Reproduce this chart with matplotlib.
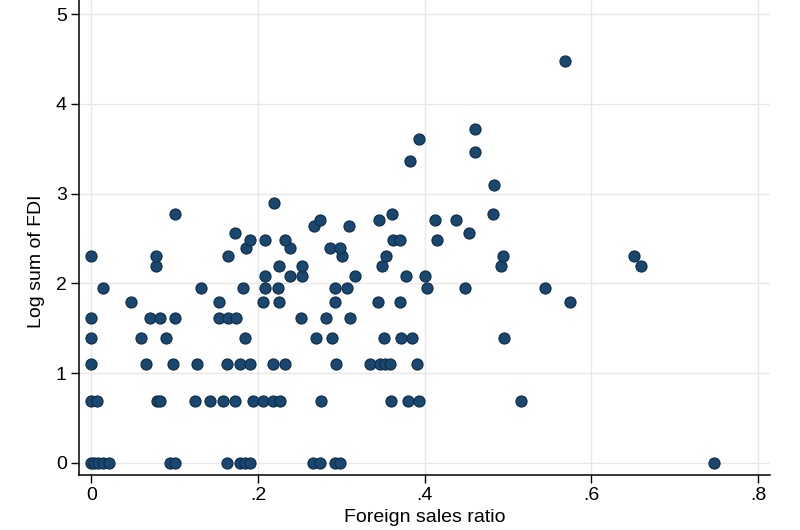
import matplotlib
matplotlib.use("Agg")
import matplotlib.pyplot as plt
from matplotlib.ticker import FixedLocator

# Foreign sales ratio (x) and log sum of FDI (y)
foreign_sales = [
    # y = 0
    0.000, 0.003, 0.008, 0.014, 0.021, 0.094, 0.100, 0.163, 0.178, 0.184,
    0.191, 0.266, 0.274, 0.292, 0.298, 0.747,
    # y = 0.69
    0.000, 0.007, 0.079, 0.083, 0.124, 0.143, 0.158, 0.173, 0.194, 0.206,
    0.218, 0.226, 0.276, 0.360, 0.380, 0.393, 0.516,
    # y = 1.10
    0.000, 0.066, 0.098, 0.127, 0.163, 0.179, 0.191, 0.218, 0.233, 0.294,
    0.334, 0.347, 0.353, 0.358, 0.391,
    # y = 1.39
    0.000, 0.060, 0.090, 0.185, 0.270, 0.289, 0.351, 0.372, 0.385, 0.495,
    # y = 1.61
    0.000, 0.070, 0.083, 0.101, 0.153, 0.164, 0.174, 0.252, 0.282, 0.311,
    # y = 1.79
    0.048, 0.153, 0.206, 0.225, 0.293, 0.344, 0.370, 0.575,
    # y = 1.95
    0.014, 0.132, 0.182, 0.209, 0.224, 0.293, 0.307, 0.403, 0.449, 0.545,
    # y = 2.08
    0.209, 0.238, 0.253, 0.316, 0.378, 0.400,
    # y = 2.20
    0.078, 0.225, 0.253, 0.349, 0.492, 0.660,
    # y = 2.30
    0.000, 0.078, 0.164, 0.301, 0.354, 0.494, 0.651,
    # y = 2.40
    0.186, 0.238, 0.287, 0.298,
    # y = 2.48
    0.190, 0.209, 0.232, 0.362, 0.370, 0.415,
    # y = 2.56 .. 4.48
    0.173, 0.453, 0.267, 0.309, 0.274, 0.345, 0.413, 0.438,
    0.101, 0.361, 0.482, 0.219, 0.483, 0.382, 0.460, 0.393, 0.461, 0.568,
]

log_fdi = (
    [0.0] * 16
    + [0.693] * 17
    + [1.099] * 15
    + [1.386] * 10
    + [1.609] * 10
    + [1.792] * 8
    + [1.946] * 10
    + [2.079] * 6
    + [2.197] * 6
    + [2.303] * 7
    + [2.398] * 4
    + [2.485] * 6
    + [2.565, 2.565, 2.639, 2.639, 2.708, 2.708, 2.708, 2.708,
       2.773, 2.773, 2.773, 2.890, 3.091, 3.367, 3.466, 3.611, 3.714, 4.477]
)

x_ticks = [0, 0.2, 0.4, 0.6, 0.8]
x_tick_labels = ["0", ".2", ".4", ".6", ".8"]
y_ticks = [0, 1, 2, 3, 4, 5]

plt.rcParams['font.family'] = ['Liberation Sans', 'DejaVu Sans']

fig = plt.figure(figsize=(8, 5.3), dpi=100)
ax = fig.add_axes([0.099, 0.104, 0.864, 0.896])

ax.scatter(foreign_sales, log_fdi, s=64, color='#1a476f',
           edgecolors='#0f2c48', linewidths=0.8, zorder=3)

ax.set_xlim(-0.0144, 0.815)
ax.set_ylim(-0.134, 5.156)

ax.xaxis.set_major_locator(FixedLocator(x_ticks))
ax.set_xticklabels(x_tick_labels)
ax.yaxis.set_major_locator(FixedLocator(y_ticks))

ax.grid(True, color='#e8e8e8', linewidth=1.0, zorder=0)
ax.set_axisbelow(True)

for side in ['top', 'right']:
    ax.spines[side].set_visible(False)
for side in ['left', 'bottom']:
    ax.spines[side].set_color('black')
    ax.spines[side].set_linewidth(1.1)

ax.tick_params(axis='both', direction='out', length=6, width=1.0,
               labelsize=14, pad=3, colors='black')

ax.set_xlabel("Foreign sales ratio", fontsize=14, labelpad=3)
ax.set_ylabel("Log sum of FDI", fontsize=14)
# the reference is cropped at the top, so its axis title sits below the visible middle
ax.yaxis.set_label_coords(-0.05, 0.45)

fig.savefig("out.png", dpi=100)
plt.close(fig)
